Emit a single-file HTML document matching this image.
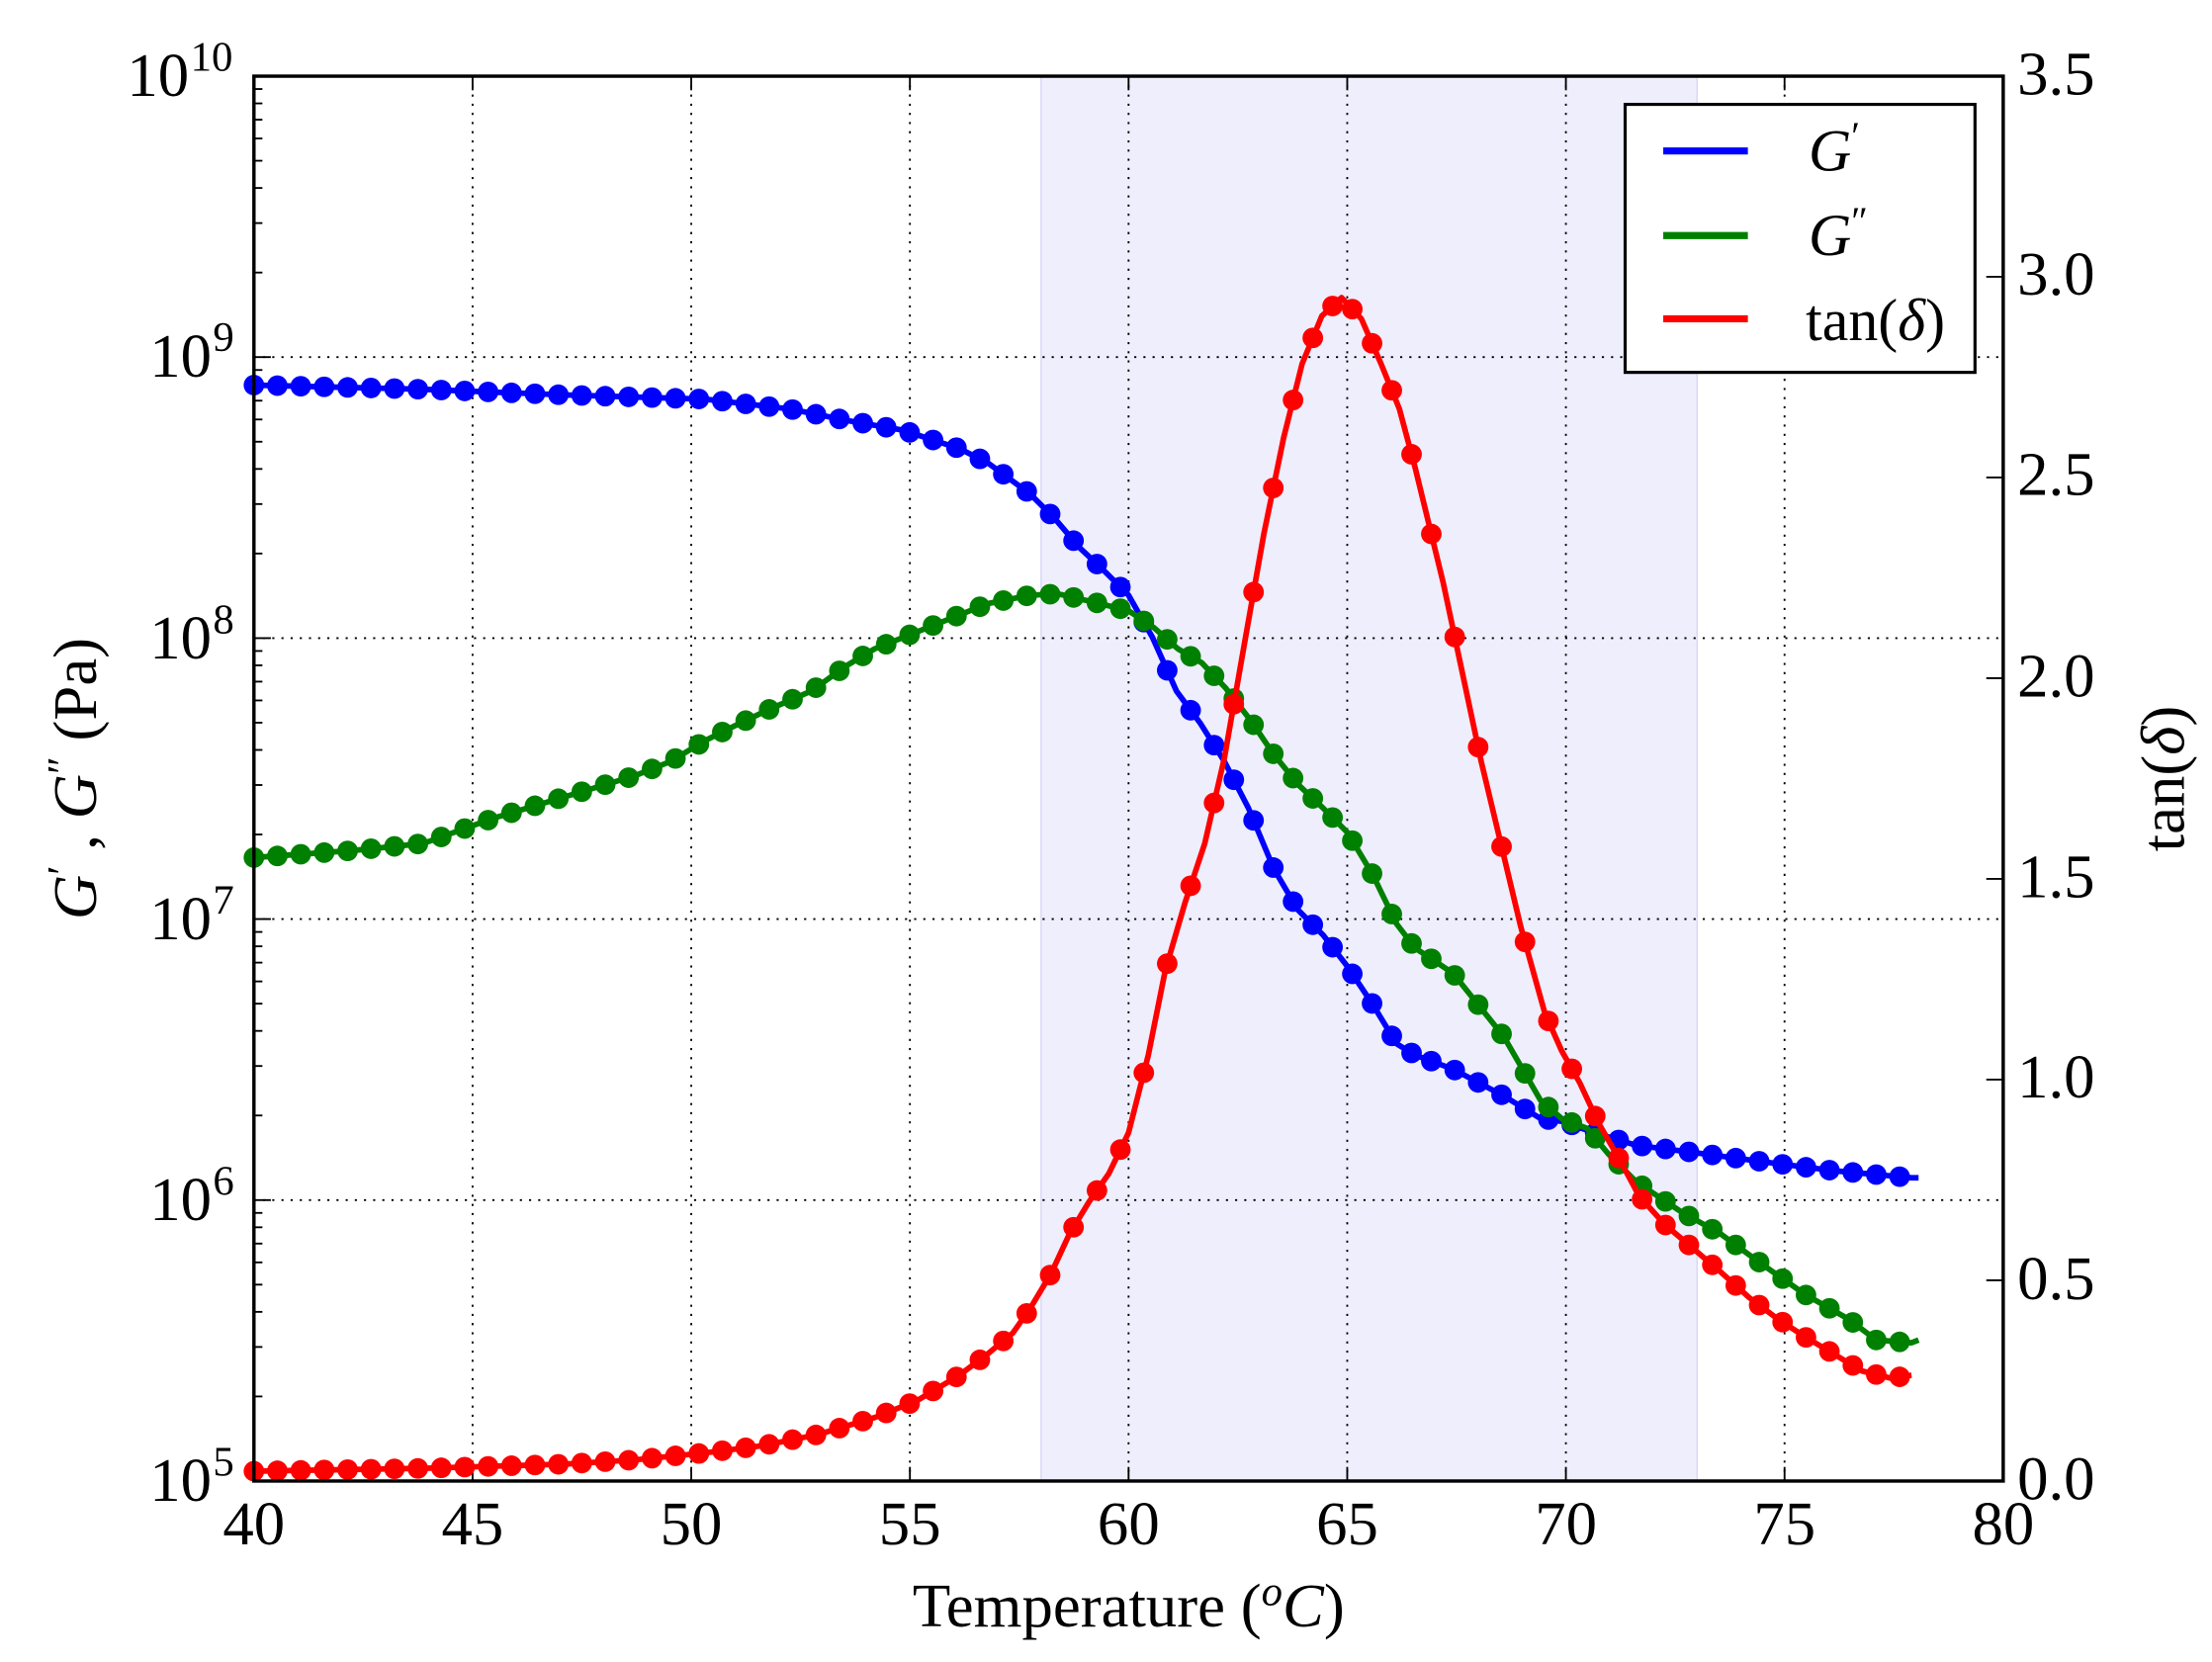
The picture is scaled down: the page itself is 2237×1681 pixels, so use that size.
<!DOCTYPE html>
<html><head><meta charset="utf-8"><style>
html,body{margin:0;padding:0;background:#fff}
svg{display:block}
text{font-family:"Liberation Serif","DejaVu Serif",serif;fill:#000}
</style></head><body>
<svg id="s" width="2237" height="1681" viewBox="0 0 1568 1178.3" preserveAspectRatio="none" xmlns="http://www.w3.org/2000/svg">
<rect x="738" y="54" width="465" height="996" fill="#eeeefc"/>
<line x1="738" y1="54" x2="738" y2="1050" stroke="#d8d8f4" stroke-width="1"/>
<line x1="1203" y1="54" x2="1203" y2="1050" stroke="#d8d8f4" stroke-width="1"/>
<g id="grid" stroke="#000" stroke-width="1.3" stroke-dasharray="1.5,5"></g>
<g id="ticks" stroke="#000" stroke-width="1.3"></g>
<g id="data"></g>
<rect x="180" y="54" width="1240" height="996" fill="none" stroke="#000" stroke-width="2.4"/>
<g font-size="44" text-anchor="middle">
<text x="180" y="1095">40</text><text x="335" y="1095">45</text><text x="490" y="1095">50</text>
<text x="645" y="1095">55</text><text x="800" y="1095">60</text><text x="955" y="1095">65</text>
<text x="1110" y="1095">70</text><text x="1265" y="1095">75</text><text x="1420" y="1095">80</text>
</g>
<g font-size="44" text-anchor="end">
<text x="150" y="1064">10</text><text x="150" y="865">10</text><text x="150" y="666">10</text>
<text x="150" y="467">10</text><text x="150" y="267">10</text><text x="134" y="68">10</text>
</g>
<g font-size="30" text-anchor="start">
<text x="151" y="1046">5</text><text x="151" y="847">6</text><text x="151" y="648">7</text>
<text x="151" y="449">8</text><text x="151" y="249">9</text><text x="135" y="50">10</text>
</g>
<g font-size="44" text-anchor="start">
<text x="1430" y="1063">0.0</text><text x="1430" y="921">0.5</text><text x="1430" y="778">1.0</text>
<text x="1430" y="636">1.5</text><text x="1430" y="494">2.0</text><text x="1430" y="351">2.5</text>
<text x="1430" y="209">3.0</text><text x="1430" y="67">3.5</text>
</g>
<text x="800" y="1153" font-size="44" text-anchor="middle">Temperature (<tspan font-style="italic" font-size="30" dy="-15">o</tspan><tspan font-style="italic" dy="15">C</tspan>)</text>
<text transform="translate(68,552) rotate(-90)" font-size="44" text-anchor="middle"><tspan font-style="italic">G</tspan><tspan dy="-14" font-size="30">′</tspan><tspan dy="14"> , </tspan><tspan font-style="italic">G</tspan><tspan dy="-14" font-size="30">″</tspan><tspan dy="14"> (Pa)</tspan></text>
<text transform="translate(1548,552) rotate(-90)" font-size="44" text-anchor="middle">tan(<tspan font-style="italic">δ</tspan>)</text>
<rect x="1152" y="74" width="248" height="190" fill="#fff" stroke="#000" stroke-width="2.2"/>
<line x1="1179" y1="107" x2="1239" y2="107" stroke="#0000ff" stroke-width="5"/>
<line x1="1179" y1="167" x2="1239" y2="167" stroke="#008000" stroke-width="5"/>
<line x1="1179" y1="226" x2="1239" y2="226" stroke="#ff0000" stroke-width="5"/>
<text x="1282" y="121" font-size="42" font-style="italic">G<tspan font-size="28" dy="-15" font-style="normal">′</tspan></text>
<text x="1282" y="181" font-size="42" font-style="italic">G<tspan font-size="28" dy="-15" font-style="normal">″</tspan></text>
<text x="1280" y="241" font-size="42">tan(<tspan font-style="italic">δ</tspan>)</text>
</svg>
<script>
var NS="http://www.w3.org/2000/svg";
function el(p,t,a){var e=document.createElementNS(NS,t);for(var k in a)e.setAttribute(k,a[k]);p.appendChild(e);return e;}
var grid=document.getElementById("grid"),ticks=document.getElementById("ticks"),data=document.getElementById("data");
for(var i=1;i<8;i++){var x=180+155*i;el(grid,"line",{x1:x,y1:54,x2:x,y2:1050});
 el(ticks,"line",{x1:x,y1:1050,x2:x,y2:1040});el(ticks,"line",{x1:x,y1:54,x2:x,y2:64});}
for(var d=0;d<5;d++){var y0=1050-199.2*d;
 if(d>0){el(grid,"line",{x1:180,y1:y0,x2:1420,y2:y0});el(ticks,"line",{x1:180,y1:y0,x2:192,y2:y0});}
 for(var m=2;m<10;m++){var y=y0-199.2*Math.log10(m);el(ticks,"line",{x1:180,y1:y,x2:186,y2:y});}}
for(var k=1;k<7;k++){var y=1050-142.3*k;el(ticks,"line",{x1:1420,y1:y,x2:1408,y2:y});}
var B=[[180,273],[300,276],[400,280],[500,283],[560,290],[600,298],[640,305],[680,318],[700,328],[730,350],[748,368],[765,388],[783,405],[800,422],[817,452],[834,490],[851,513],[868,540],[885,573],[903,616],[920,645],[938,663],[955,685],[973,712],[990,740],[1003,748],[1030,758],[1066,777],[1092,793],[1107,795],[1130,803],[1160,812],[1200,817],[1260,825],[1300,830],[1355,835],[1360,835]];
var G=[[180,608],[250,603],[300,598],[350,580],[400,565],[450,550],[475,540],[500,525],[520,515],[545,503],[575,490],[600,472],[620,460],[645,450],[670,440],[700,428],[730,422],[750,421],[780,428],[800,433],[818,445],[835,460],[852,470],[869,488],[886,510],[903,535],[921,557],[938,573],[955,590],[973,620],[990,655],[1003,672],[1030,690],[1066,735],[1092,780],[1107,793],[1125,800],[1140,818],[1160,838],[1190,858],[1220,875],[1250,897],[1280,918],[1310,935],[1330,950],[1355,952],[1360,950]];
var R=[[180,1043],[300,1041],[400,1038],[450,1035],[500,1030],[540,1025],[580,1017],[620,1005],[650,993],[680,975],[700,960],[718,945],[730,928],[745,903],[758,875],[772,852],[786,832],[800,803],[814,748],[826,688],[840,640],[854,598],[868,537],[882,457],[896,378],[910,310],[923,258],[937,224],[951,211],[965,226],[979,258],[992,290],[1003,331],[1023,413],[1050,540],[1078,657],[1095,718],[1107,745],[1120,768],[1133,796],[1148,822],[1162,848],[1180,868],[1200,885],[1220,902],[1240,920],[1260,935],[1280,948],[1300,960],[1320,972],[1340,977],[1355,975]];
function interp(P,x){for(var i=0;i<P.length-1;i++){if(x<=P[i+1][0]){var t=(x-P[i][0])/(P[i+1][0]-P[i][0]);return P[i][1]+t*(P[i+1][1]-P[i][1]);}}return P[P.length-1][1];}
function draw(P,c){var g=el(data,"g",{});
 el(g,"polyline",{points:P.map(function(p){return p.join(",")}).join(" "),fill:"none",stroke:c,"stroke-width":4,"stroke-linejoin":"round"});
 for(var x=180;x<=1356;){el(g,"circle",{cx:x,cy:interp(P,x),r:7.3,fill:c});x+=(x>860&&x<1010)?14:16.6;}}
draw(B,"#0000ff");draw(G,"#008000");draw(R,"#ff0000");
</script>
</body></html>
